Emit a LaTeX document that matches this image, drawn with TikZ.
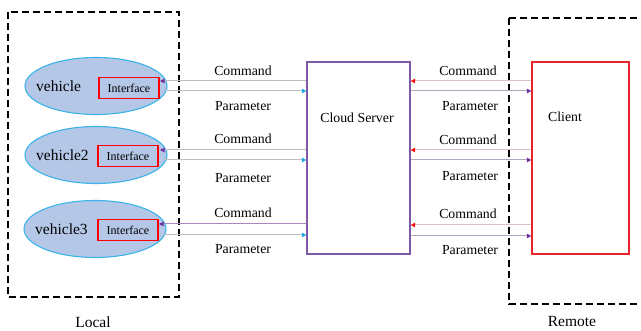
\documentclass[tikz,border=0pt]{standalone}
\usepackage{fontspec}
\setmainfont{Liberation Serif}
\usetikzlibrary{arrows.meta,shapes.geometric}
\definecolor{ellfill}{HTML}{B4C7E7}
\definecolor{ellline}{HTML}{3AB4E8}
\definecolor{purp}{HTML}{7E5AA6}
\definecolor{headpurp}{HTML}{7030A0}
\definecolor{headblue}{HTML}{1FA8E0}
\definecolor{headred}{HTML}{FF1010}
\definecolor{linegray}{HTML}{BDBDC6}
\definecolor{clientred}{HTML}{E8232A}
\tikzset{
  region/.style={draw=black, line width=1.5pt, dash pattern=on 7pt off 4pt},
  vehicle/.style={ellipse, draw=ellline, fill=ellfill, line width=1.1pt, minimum width=142pt, minimum height=57pt, inner sep=0pt},
  iface/.style={draw=red, line width=1.1pt, minimum width=60pt, minimum height=21pt, inner sep=0pt, font=\fontsize{12}{12}\selectfont},
  lbl/.style={font=\fontsize{13.8}{14}\selectfont, inner sep=0pt},
  vlbl/.style={font=\fontsize{15.5}{16}\selectfont, inner sep=0pt},
  cmdL/.style={draw=linegray, line width=1pt, -{Triangle[length=4.5pt,width=4.5pt,color=headpurp]}},
  parL/.style={draw=linegray, line width=1pt, -{Triangle[length=4.5pt,width=4.5pt,color=headblue]}},
  cmdR/.style={draw=linegray!80!red!60, line width=1pt, -{Triangle[length=4.5pt,width=4.5pt,color=headred]}},
  parR/.style={draw=linegray!80!purp, line width=1pt, -{Triangle[length=4.5pt,width=4.5pt,color=headpurp]}},
}
\begin{document}
\begin{tikzpicture}[x=1pt,y=-1pt]
\useasboundingbox (0,0) rectangle (641,331);
\begin{scope}
\clip (0,0) rectangle (641,331);
% regions
\draw[region] (8,12) rectangle (179,297);
\draw[region] (509,18) -- (660,18);
\draw[region] (509,18) -- (509,304) -- (660,304);
% vehicles
\node[vehicle] (v1) at (96,86) {};
\node[vehicle] (v2) at (96,155) {};
\node[vehicle] (v3) at (95,229) {};
\node[vlbl, anchor=west] (t1) at (36,86) {vehicle};
\node[vlbl, anchor=west] (t2) at (36,155) {vehicle2};
\node[vlbl, anchor=west] (t3) at (35,229) {vehicle3};
\node[iface] (i1) at (129,88) {Interface};
\node[iface] (i2) at (128,156) {Interface};
\node[iface] (i3) at (128,230) {Interface};
% server & client
\node[draw=purp, line width=1.3pt, minimum width=103pt, minimum height=192pt, inner sep=0pt] (srv) at (358.5,158) {};
\node[lbl] (srvt) at (357,118) {Cloud Server};
\node[draw=clientred, line width=1.3pt, minimum width=97pt, minimum height=192pt, inner sep=0pt] (cli) at (580.5,158) {};
\node[lbl] (clit) at (565,117) {Client};
% coordinates
\coordinate (sL1c) at (srv.west |- 0,81);
\coordinate (sL1p) at (srv.west |- 0,91);
\coordinate (sL2c) at (srv.west |- 0,150);
\coordinate (sL2p) at (srv.west |- 0,160);
\coordinate (sL3c) at (srv.west |- 0,224);
\coordinate (sL3p) at (srv.west |- 0,235);
\coordinate (iL1c) at (160,81);
\coordinate (iL1p) at (163,91);
\coordinate (iL2c) at (160,150);
\coordinate (iL2p) at (164,160);
\coordinate (iL3c) at (159,224);
\coordinate (iL3p) at (163,235);
\draw[cmdL] (sL1c) -- (iL1c);
\draw[parL] (iL1p) -- (sL1p);
\draw[cmdL] (sL2c) -- (iL2c);
\draw[parL] (iL2p) -- (sL2p);
\draw[cmdL, draw=purp!70] (sL3c) -- (iL3c);
\draw[parL] (iL3p) -- (sL3p);
\coordinate (sR1c) at (srv.east |- 0,81);
\coordinate (sR1p) at (srv.east |- 0,91);
\coordinate (sR2c) at (srv.east |- 0,150);
\coordinate (sR2p) at (srv.east |- 0,160);
\coordinate (sR3c) at (srv.east |- 0,225);
\coordinate (sR3p) at (srv.east |- 0,236);
\coordinate (cR1c) at (cli.west |- 0,81);
\coordinate (cR1p) at (cli.west |- 0,91);
\coordinate (cR2c) at (cli.west |- 0,150);
\coordinate (cR2p) at (cli.west |- 0,160);
\coordinate (cR3c) at (cli.west |- 0,225);
\coordinate (cR3p) at (cli.west |- 0,236);
\draw[cmdR] (cR1c) -- (sR1c);
\draw[parR] (sR1p) -- (cR1p);
\draw[cmdR] (cR2c) -- (sR2c);
\draw[parR] (sR2p) -- (cR2p);
\draw[cmdR] (cR3c) -- (sR3c);
\draw[parR] (sR3p) -- (cR3p);
% labels
\node[lbl] (lc1) at (243,71) {Command};
\node[lbl] (lp1) at (243,106) {Parameter};
\node[lbl] (lc2) at (243,139) {Command};
\node[lbl] (lp2) at (243,178) {Parameter};
\node[lbl] (lc3) at (243,213) {Command};
\node[lbl] (lp3) at (243,249) {Parameter};
\node[lbl] (rc1) at (468,71) {Command};
\node[lbl] (rp1) at (470,106) {Parameter};
\node[lbl] (rc2) at (468,140) {Command};
\node[lbl] (rp2) at (470,176) {Parameter};
\node[lbl] (rc3) at (468,214) {Command};
\node[lbl] (rp3) at (470,250) {Parameter};
\node[vlbl] (loc) at (93,322) {Local};
\node[vlbl] (rem) at (572,322) {Remote};
\end{scope}
\end{tikzpicture}
\end{document}
